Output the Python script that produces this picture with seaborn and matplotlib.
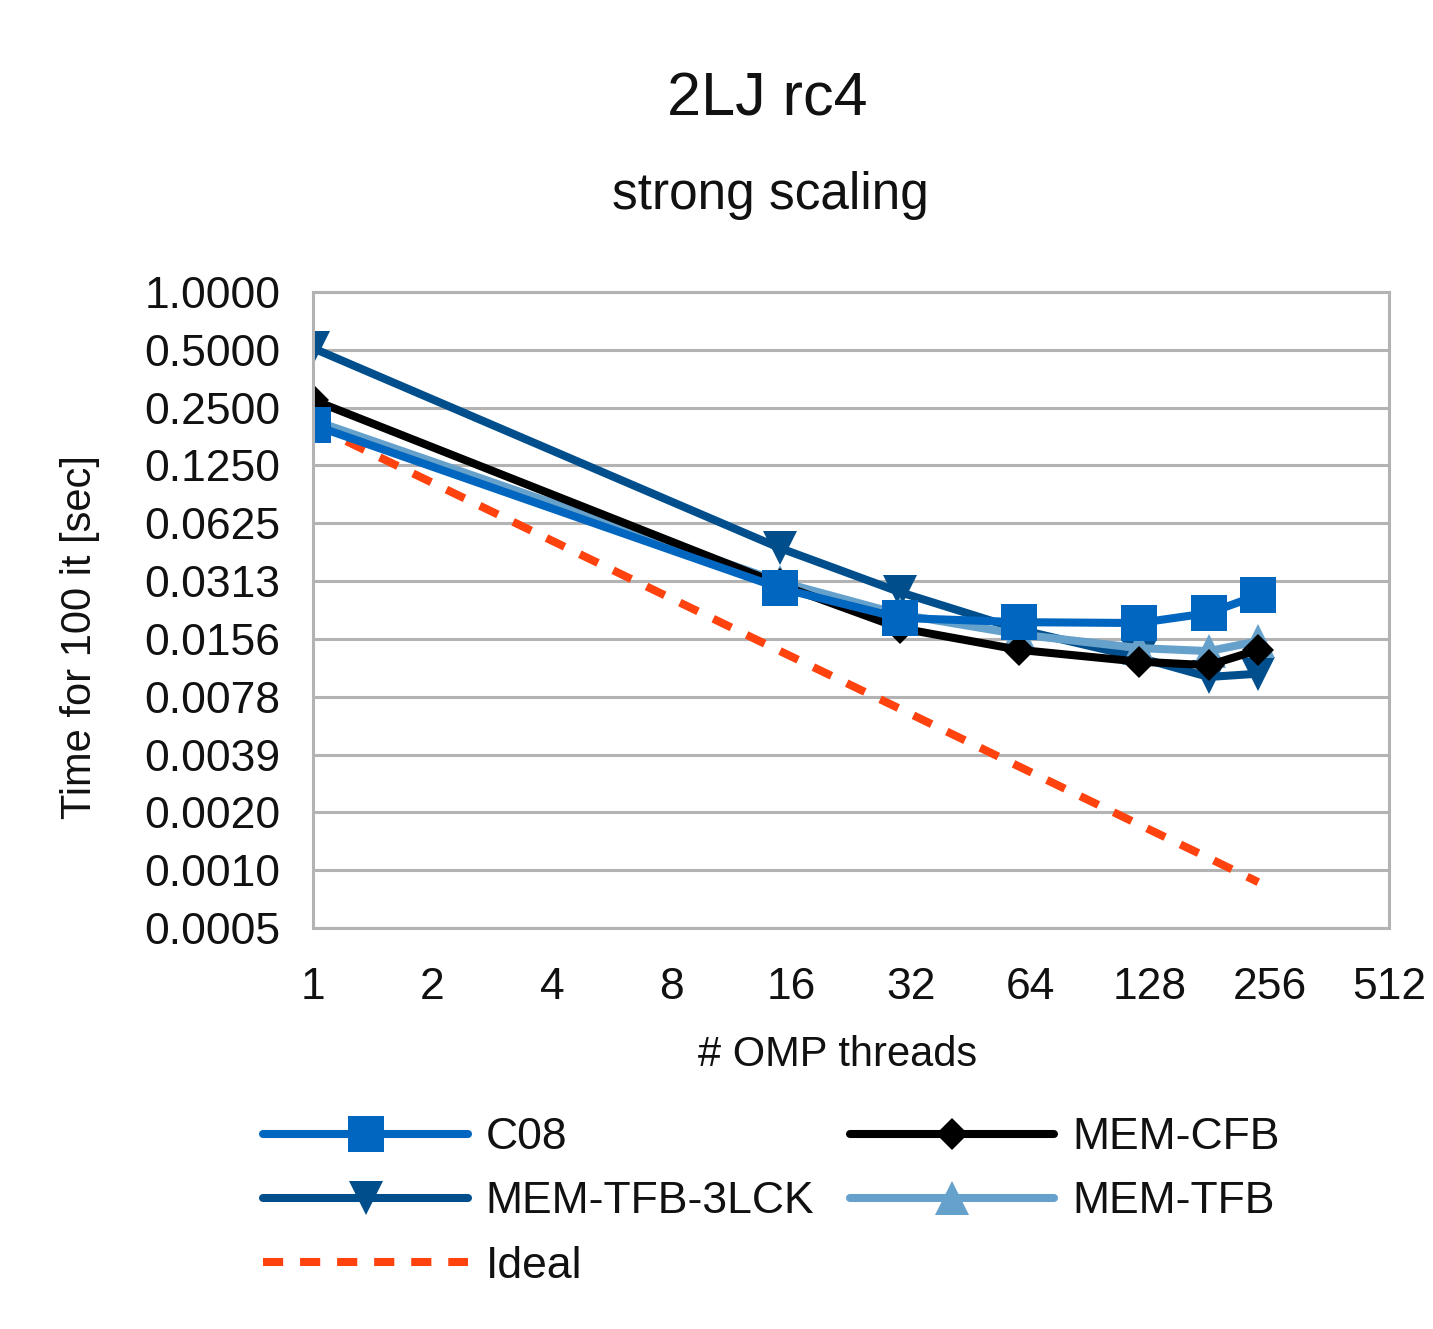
import matplotlib
matplotlib.use("Agg")
import matplotlib.pyplot as plt
import seaborn as sns
import numpy as np
import pandas as pd
from matplotlib.ticker import FixedLocator, NullLocator

threads = [1, 15, 30, 60, 120, 180, 240]
c08 = [0.203, 0.0287, 0.0201, 0.0191, 0.0189, 0.0213, 0.0264]
mem_cfb = [0.274, 0.0300, 0.0178, 0.0137, 0.0119, 0.0114, 0.0137]
mem_tfb_3lck = [0.51, 0.0464, 0.0274, 0.0175, 0.0125, 0.0099, 0.0103]
mem_tfb = [0.215, 0.0310, 0.0210, 0.0165, 0.0140, 0.0135, 0.0152]
ideal = [0.203, 0.0135, 0.00677, 0.00338, 0.00169, 0.00113, 0.000846]

x_ticks = [1, 2, 4, 8, 16, 32, 64, 128, 256, 512]
x_labels = ["1", "2", "4", "8", "16", "32", "64", "128", "256", "512"]
y_ticks = [1.0, 0.5, 0.25, 0.125, 0.0625, 0.03125, 0.015625, 0.0078125,
           0.00390625, 0.001953125, 0.0009765625, 0.00048828125]
y_labels = ["1.0000", "0.5000", "0.2500", "0.1250", "0.0625", "0.0313",
            "0.0156", "0.0078", "0.0039", "0.0020", "0.0010", "0.0005"]

sns.set_theme(style="white")
plt.rcParams['font.family'] = ['Liberation Sans', 'DejaVu Sans']

fig = plt.figure(figsize=(14.33, 13.29), dpi=100)
ax = fig.add_axes([313/1433, 1-928/1329, (1389-313)/1433, (928-292)/1329])

grid_c = "#b3b3b3"
lw = 5.8

series = [
    ("C08", c08, "#0066bf", "s", 26, None),
    ("MEM-TFB-3LCK", mem_tfb_3lck, "#004f8c", "v", 25, None),
    ("Ideal", ideal, "#ff420e", None, 0, (0, (2.5, 2.1))),
    ("MEM-CFB", mem_cfb, "#000000", "D", 16, None),
    ("MEM-TFB", mem_tfb, "#66a1cc", "^", 25, None),
]
draw_order = ["Ideal", "MEM-TFB-3LCK", "MEM-TFB", "MEM-CFB", "C08"]
handles = {}
for name in draw_order:
    label, vals, col, mk, ms, ls = [s for s in series if s[0] == name][0]
    df = pd.DataFrame({"x": threads, "y": vals})
    kw = dict(data=df, x="x", y="y", ax=ax, color=col, linewidth=lw,
              label=label, legend=False, errorbar=None)
    if mk:
        kw.update(marker=mk, markersize=ms, markeredgewidth=0)
    if ls is not None:
        kw.update(linestyle=ls)
    sns.lineplot(**kw)
    handles[label] = ax.lines[-1]

ax.set_xscale("log", base=2)
ax.set_yscale("log", base=2)
ax.set_xlim(1, 512)
ax.set_ylim(0.00048828125, 1.0)
ax.xaxis.set_major_locator(FixedLocator(x_ticks))
ax.xaxis.set_minor_locator(NullLocator())
ax.set_xticklabels(x_labels)
ax.yaxis.set_major_locator(FixedLocator(y_ticks))
ax.yaxis.set_minor_locator(NullLocator())
ax.set_yticklabels(y_labels)

ax.grid(False)
ax.yaxis.grid(True, color=grid_c, linewidth=2.2)
ax.set_axisbelow(True)
for s in ax.spines.values():
    s.set_color(grid_c)
    s.set_linewidth(2.2)
ax.tick_params(axis="both", which="major", labelsize=32, colors=grid_c,
               labelcolor="#111111", length=12, width=2.2, direction="out")
ax.tick_params(axis="x", pad=16)
ax.tick_params(axis="y", pad=11.5)

ax.set_xlabel("# OMP threads", fontsize=30, color="#111111")
ax.xaxis.set_label_coords((838-313)/(1389-313), -(1055-928)/(928-292), transform=ax.transAxes)
ax.xaxis.label.set_va("center")
ax.set_ylabel("Time for 100 it [sec]", fontsize=30, color="#111111")
ax.yaxis.set_label_coords(-(313-80)/(1389-313), (928-637)/(928-292), transform=ax.transAxes)
ax.yaxis.label.set_va("center")

fig.text(767/1433, 1-100/1329, "2LJ rc4", ha="center", va="center", fontsize=44, color="#111111")
fig.text(770/1433, 1-195/1329, "strong scaling", ha="center", va="center", fontsize=37, color="#111111")

order = ["C08", "MEM-TFB-3LCK", "Ideal", "MEM-CFB", "MEM-TFB"]
leg = fig.legend([handles[o] for o in order], order, ncol=2, loc="upper left",
                 bbox_to_anchor=(250/1433, 1-1104/1329), frameon=False,
                 fontsize=32, handlelength=4.6, handletextpad=0.4,
                 columnspacing=0.8, labelspacing=0.52, borderaxespad=0, borderpad=0.3)
for t in leg.get_texts():
    t.set_color("#111111")

fig.savefig("out.png", dpi=100)
